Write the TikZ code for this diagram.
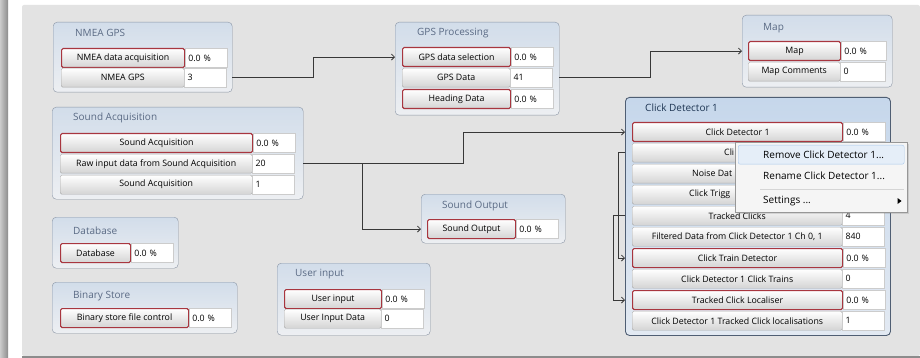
\documentclass[tikz,border=0pt]{standalone}
\usepackage{fontspec}
\setmainfont{Open Sans}
\usetikzlibrary{positioning, arrows.meta, shadows}

\definecolor{panel}{HTML}{E3E3E3}
\definecolor{barlight}{HTML}{CBCBCB}
\definecolor{bardark}{HTML}{8C8C8C}
\definecolor{boxedge}{HTML}{8A95A5}
\definecolor{boxtop}{HTML}{D2DDEA}
\definecolor{boxbot}{HTML}{EDEFF2}
\definecolor{seledge}{HTML}{4F5E73}
\definecolor{seltop}{HTML}{C6D7EB}
\definecolor{selbot}{HTML}{E2E9F2}
\definecolor{titletext}{HTML}{5A6A84}
\definecolor{cdtitle}{HTML}{1E3553}
\definecolor{btnedge}{HTML}{A8A8A8}
\definecolor{btnbot}{HTML}{D4D4D4}
\definecolor{runedge}{HTML}{A8363F}
\definecolor{valedge}{HTML}{CCCCCC}
\definecolor{linkcol}{HTML}{383838}
\definecolor{menubg}{HTML}{F5F5F5}
\definecolor{menuedge}{HTML}{979797}
\definecolor{hifill}{HTML}{E5EEF8}
\definecolor{hiedge}{HTML}{A9C8EC}
\definecolor{sepcol}{HTML}{D5D5D5}

\newcommand{\uisize}{\fontsize{8.8}{10}\selectfont}
\newcommand{\titlesize}{\fontsize{10}{12}\selectfont}
\newcommand{\menusize}{\fontsize{10}{12}\selectfont}

\tikzset {
    >={Straight Barb[length=3pt,width=6pt]},
    modbox/.style={draw=boxedge, rounded corners=4pt, top color=boxtop, bottom color=boxbot, anchor=north west, inner sep=0pt},
    selbox/.style={modbox, draw=seledge, top color=seltop, bottom color=selbot, line width=0.9pt},
    boxtitle/.style={anchor=west, font=\titlesize, text=titletext, inner sep=0pt},
    btn/.style={draw=btnedge, rounded corners=1.5pt, top color=white, bottom color=btnbot, anchor=north west, minimum height=19pt, inner sep=0pt, font=\uisize},
    runbtn/.style={btn, draw=runedge, line width=1.1pt},
    btntext/.style={anchor=west, inner sep=0pt, font=\uisize},
    val/.style={draw=valedge, fill=white, anchor=west, minimum height=19pt, text width=36pt, inner xsep=3pt, inner ysep=0pt, align=left, font=\uisize},
    link/.style={->, draw=linkcol, line width=0.8pt},
    menuitem/.style={anchor=west, inner sep=0pt, font=\menusize}
}

\begin{document}
\begin{tikzpicture}[x=1pt, y=-1pt]
\useasboundingbox (0,0) rectangle (920,358);

% window frame and canvas
\fill[white] (0,0) rectangle (920,358);
\shade[left color=barlight, right color=bardark] (0,0) rectangle (8,358);
\fill[panel, rounded corners=2pt] (22,5) rectangle (920,356);
\fill[bardark] (22,355.5) rectangle (920,358);

% NMEA GPS
\node[modbox, minimum width=179pt, minimum height=70pt] (nmea) at (53,22) {};
\node[boxtitle] (nmeaT) at (75,33) {NMEA GPS};
\node[runbtn, minimum width=123pt] (nmeaAcq) at (61,48) {NMEA data acquisition};
\node[val, right=0pt of nmeaAcq] (nmeaAcqV) {0.0 \%};
\node[btn, minimum width=123pt] (nmeaGps) at (61,68) {NMEA GPS};
\node[val, right=0pt of nmeaGps] (nmeaGpsV) {3};

% Sound Acquisition
\node[modbox, minimum width=251pt, minimum height=92pt] (snd) at (52,107) {};
\node[boxtitle] (sndT) at (73,118) {Sound Acquisition};
\node[runbtn, minimum width=192pt] (sndAcq) at (60,133) {Sound Acquisition};
\node[val, right=0pt of sndAcq] (sndAcqV) {0.0 \%};
\node[btn, minimum width=192pt] (rawData) at (60,154) {Raw input data from Sound Acquisition};
\node[val, right=0pt of rawData] (rawDataV) {20};
\node[btn, minimum width=192pt] (sndMisc) at (60,175) {Sound Acquisition};
\node[val, right=0pt of sndMisc] (sndMiscV) {1};

% Database
\node[modbox, minimum width=126pt, minimum height=51pt] (db) at (52,217) {};
\node[boxtitle] (dbT) at (73,231) {Database};
\node[runbtn, minimum width=70pt] (dbMain) at (60,243) {Database};
\node[val, right=0pt of dbMain] (dbMainV) {0.0 \%};

% Binary Store
\node[modbox, minimum width=185pt, minimum height=51pt] (bin) at (52,282) {};
\node[boxtitle] (binT) at (73,296) {Binary Store};
\node[runbtn, minimum width=128pt] (binCtl) at (60,308) {Binary store file control};
\node[val, right=0pt of binCtl] (binCtlV) {0.0 \%};

% User input
\node[modbox, minimum width=153pt, minimum height=72pt] (usr) at (277,263) {};
\node[boxtitle] (usrT) at (295,274) {User input};
\node[runbtn, minimum width=97pt] (usrIn) at (284,289) {User input};
\node[val, right=0pt of usrIn] (usrInV) {0.0 \%};
\node[btn, minimum width=97pt] (usrData) at (284,309) {User Input Data};
\node[val, right=0pt of usrData] (usrDataV) {0};

% GPS Processing
\node[modbox, minimum width=164pt, minimum height=93pt] (gps) at (395,22) {};
\node[boxtitle] (gpsT) at (417,33) {GPS Processing};
\node[runbtn, minimum width=108pt] (gpsSel) at (402,47) {GPS data selection};
\node[val, right=0pt of gpsSel] (gpsSelV) {0.0 \%};
\node[btn, minimum width=108pt] (gpsData) at (402,68) {GPS Data};
\node[val, right=0pt of gpsData] (gpsDataV) {41};
\node[runbtn, minimum width=108pt] (gpsHead) at (402,89) {Heading Data};
\node[val, right=0pt of gpsHead] (gpsHeadV) {0.0 \%};

% Map
\node[modbox, minimum width=150pt, minimum height=72pt] (map) at (742,15) {};
\node[boxtitle] (mapT) at (763,28) {Map};
\node[runbtn, minimum width=92pt] (mapMain) at (748,41) {Map};
\node[val, right=0pt of mapMain, text width=39pt] (mapMainV) {0.0 \%};
\node[btn, minimum width=92pt] (mapCom) at (748,62) {Map Comments};
\node[val, right=0pt of mapCom, text width=39pt] (mapComV) {0};

% Sound Output
\node[modbox, minimum width=144pt, minimum height=49pt] (so) at (421,194) {};
\node[boxtitle] (soT) at (442,206) {Sound Output};
\node[runbtn, minimum width=88pt] (soOut) at (427,219) {Sound Output};
\node[val, right=0pt of soOut] (soOutV) {0.0 \%};

% Click Detector 1
\node[selbox, minimum width=265pt, minimum height=238pt] (cd) at (625,97) {};
\node[boxtitle, text=cdtitle] (cdT) at (645,108) {Click Detector 1};
\node[runbtn, minimum width=210pt] (cdMain) at (632,122) {Click Detector 1};
\node[val, right=0pt of cdMain] (cdMainV) {0.0 \%};
\node[btn, minimum width=210pt] (cdClicks) at (632,143) {};
\node[btntext] (cdClicksT) at (724,152.5) {Cli};
\node[btn, minimum width=210pt] (cdNoise) at (632,164) {};
\node[btntext] (cdNoiseT) at (692,173.5) {Noise Dat};
\node[btn, minimum width=210pt] (cdTrig) at (632,185) {};
\node[btntext] (cdTrigT) at (689,194.5) {Click Trigg};
\node[btn, minimum width=210pt] (cdTracked) at (632,206) {Tracked Clicks};
\node[val, right=0pt of cdTracked] (cdTrackedV) {4};
\node[btn, minimum width=210pt] (cdFilt) at (632,227) {Filtered Data from Click Detector 1 Ch 0, 1};
\node[val, right=0pt of cdFilt] (cdFiltV) {840};
\node[runbtn, minimum width=210pt] (cdTrain) at (632,248) {Click Train Detector};
\node[val, right=0pt of cdTrain] (cdTrainV) {0.0 \%};
\node[btn, minimum width=210pt] (cdTrains) at (632,269) {Click Detector 1 Click Trains};
\node[val, right=0pt of cdTrains] (cdTrainsV) {0};
\node[runbtn, minimum width=210pt] (cdLoc) at (632,290) {Tracked Click Localiser};
\node[val, right=0pt of cdLoc] (cdLocV) {0.0 \%};
\node[btn, minimum width=210pt] (cdLocs) at (632,311) {Click Detector 1 Tracked Click localisations};
\node[val, right=0pt of cdLocs] (cdLocsV) {1};

% data lines between modules
\draw[link] (nmeaGps.east -| nmea.east) -- ++(81,0) |- (gpsSel.west -| gps.west);
\draw[link] (gpsData.east -| gps.east) -- ++(91,0) |- (mapMain.west -| map.west);
\draw[link] (rawData.east -| snd.east) -- ++(59,0) coordinate (split) -- ++(101,0) |- (cdMain.west -| cd.west);
\draw[link] (split) |- (soOut.west -| so.west);
\draw[link] (cdClicks.west -| cd.west) -- ++(-7,0) |- (cdTrain.west -| cd.west);
\draw[link] (cdTracked.west -| cd.west) -- ++(-12,0) |- (cdLoc.west -| cd.west);

% right-click menu
\node[draw=menuedge, fill=menubg, anchor=north west, minimum width=172pt, minimum height=70pt, inner sep=0pt,
      drop shadow={shadow xshift=2pt, shadow yshift=-2pt, opacity=0.25}] (menu) at (735,142) {};
\node[draw=hiedge, fill=hifill, rounded corners=2pt, anchor=north west, minimum width=166pt, minimum height=19pt, inner sep=0pt] (menuHi) at (738,145) {};
\node[menuitem] (rmItem) at (763,154.5) {Remove Click Detector 1...};
\node[menuitem] (rnItem) at (763,175.5) {Rename Click Detector 1...};
\draw[sepcol] (760,189) -- (904,189);
\node[menuitem] (setItem) at (763,201) {Settings ...};
\fill (897.5,198) -- (901.5,201) -- (897.5,204) -- cycle;

\end{tikzpicture}
\end{document}
